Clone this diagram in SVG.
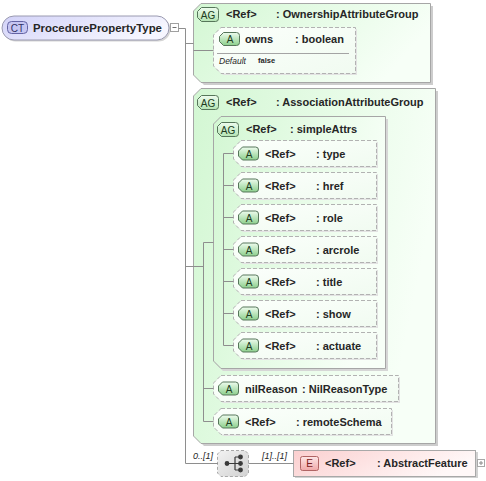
<svg xmlns="http://www.w3.org/2000/svg" width="486" height="481" viewBox="0 0 486 481">
<defs>
<linearGradient id="gAG" x1="0" y1="0" x2="1" y2="0.3"><stop offset="0" stop-color="#d3f7d3"/><stop offset="1" stop-color="#f7fff7"/></linearGradient>
<linearGradient id="gAT" x1="0" y1="0" x2="1" y2="1"><stop offset="0" stop-color="#fbfffb"/><stop offset="1" stop-color="#f1fbf1"/></linearGradient>
<linearGradient id="gBA" x1="0" y1="0" x2="0" y2="1"><stop offset="0" stop-color="#eefcee"/><stop offset="1" stop-color="#8ccf8c"/></linearGradient>
<linearGradient id="gBG" x1="0" y1="0" x2="0" y2="1"><stop offset="0" stop-color="#eefcee"/><stop offset="1" stop-color="#b4e4b4"/></linearGradient>
<linearGradient id="gCT" x1="0" y1="0" x2="1" y2="0.4"><stop offset="0" stop-color="#d2d2f8"/><stop offset="1" stop-color="#f6f6ff"/></linearGradient>
<linearGradient id="gE" x1="0" y1="0" x2="1" y2="0.3"><stop offset="0" stop-color="#fbcfcf"/><stop offset="1" stop-color="#fff8f8"/></linearGradient>
<linearGradient id="gBE" x1="0" y1="0" x2="0" y2="1"><stop offset="0" stop-color="#fde6e6"/><stop offset="1" stop-color="#f0a8a8"/></linearGradient>
<linearGradient id="gSQ" x1="0" y1="0" x2="1" y2="1"><stop offset="0" stop-color="#f2f2f2"/><stop offset="1" stop-color="#d2d2d2"/></linearGradient>
</defs>
<style>
.t{font-family:"Liberation Sans",Arial,sans-serif;font-size:11px;font-weight:bold;fill:#262626}
.c{font-family:"Liberation Sans",Arial,sans-serif;font-size:9px;font-style:italic;fill:#262626}
.bt{font-family:"Liberation Sans",Arial,sans-serif;font-size:10px;text-anchor:middle;fill:#203a20}
.ln{stroke:#8e8e8e;stroke-width:1;fill:none}
.ag{fill:url(#gAG);stroke:#a6a6a6;stroke-width:1}
.sh{fill:#cdcdcd}
.ash{fill:#e2e2e2}
.at{fill:url(#gAT);stroke:#b2b2b2;stroke-width:1;stroke-dasharray:4 2}
.bA{fill:url(#gBA);stroke:#56765a;stroke-width:1}
.bG{fill:url(#gBG);stroke:#56765a;stroke-width:1}
</style>

<g id="ProcedurePropertyType">
<rect x="3.5" y="17.5" width="167" height="24" rx="12" fill="#d4d4d4"/>
<rect x="2" y="16" width="167" height="24" rx="12" fill="url(#gCT)" stroke="#9a9ab0"/>
<rect x="7.5" y="21.5" width="20" height="12" rx="4" fill="#c6c6f2" stroke="#6464a4"/>
<text class="bt" x="17.5" y="31.5" style="fill:#303064">CT</text>
<text class="t" x="33" y="31.5" style="font-size:11.4px">ProcedurePropertyType</text>
<rect x="170.5" y="23.5" width="8" height="8" fill="#ffffff" stroke="#a0a0a0"/>
<path d="M172.5,27.5 H176.5" stroke="#707070"/>
</g>

<g id="OwnershipAttributeGroup">
<path class="sh" d="M204,6 H433 V85 H204 L196,77 V14 Z"/>
<path class="ag" d="M201,3.5 H430.5 V82.5 H201 L193.5,75 V11 Z"/>
<path class="bG" d="M201.5,7.5 H215.5 Q218.5,7.5 218.5,10.5 V18.5 Q218.5,21.5 215.5,21.5 H201.5 L197.5,17.5 V11.5 Z"/>
<text class="bt" x="208" y="18.5">AG</text>
<text class="t" x="226" y="18">&lt;Ref&gt;</text>
<text class="t" x="276" y="18">: OwnershipAttributeGroup</text>
</g>

<g id="owns">
<path class="ash" d="M223,29 H357 V75 H223 L215,67 V37 Z"/>
<path class="at" d="M221,27.5 H355.5 V73.5 H221 L213.5,66 V35 Z"/>
<path class="bA" d="M223.5,32.5 H236.5 Q239.5,32.5 239.5,35.5 V42.5 Q239.5,45.5 236.5,45.5 H223.5 L219.5,41.5 V36.5 Z"/>
<text class="bt" x="230" y="43">A</text>
<text class="t" x="245" y="42.5">owns</text>
<text class="t" x="295" y="42.5">: boolean</text>
<path d="M217,53.5 H349" stroke="#a4a4a4"/>
<text x="219" y="64" style="font-family:'Liberation Sans',Arial,sans-serif;font-size:8.5px;font-style:italic;fill:#262626">Default</text>
<text x="258" y="63" style="font-family:'Liberation Sans',Arial,sans-serif;font-size:7.5px;font-weight:bold;fill:#262626">false</text>
</g>

<g id="AssociationAttributeGroup">
<path class="sh" d="M204,91 H438 V446 H204 L196,438 V99 Z"/>
<path class="ag" d="M201,88.5 H435.5 V443.5 H201 L193.5,436 V96 Z"/>
<path class="bG" d="M201.5,95.5 H215.5 Q218.5,95.5 218.5,98.5 V106.5 Q218.5,109.5 215.5,109.5 H201.5 L197.5,105.5 V99.5 Z"/>
<text class="bt" x="208" y="106.5">AG</text>
<text class="t" x="226" y="106">&lt;Ref&gt;</text>
<text class="t" x="276" y="106">: AssociationAttributeGroup</text>
</g>

<g id="simpleAttrs">
<path class="sh" d="M223,119 H388 V371 H223 L215,363 V127 Z" style="fill:#d6d6d6"/>
<path class="ag" d="M221,116.5 H385.5 V368.5 H221 L213.5,361 V124 Z"/>
<path class="bG" d="M221.5,122.5 H235.5 Q238.5,122.5 238.5,125.5 V133.5 Q238.5,136.5 235.5,136.5 H221.5 L217.5,132.5 V126.5 Z"/>
<text class="bt" x="228" y="133.5">AG</text>
<text class="t" x="246" y="133">&lt;Ref&gt;</text>
<text class="t" x="290" y="133">: simpleAttrs</text>
</g>

<g id="type">
<path class="ash" d="M243,142 H378 V168 H243 L235,160 V150 Z"/>
<path class="at" d="M241,140.5 H376.5 V166.5 H241 L233.5,159 V148 Z"/>
<path class="bA" d="M242.5,147 H255.5 Q258.5,147 258.5,150 V157 Q258.5,160 255.5,160 H242.5 L238.5,156 V151 Z"/>
<text class="bt" x="249" y="157.5">A</text>
<text class="t" x="265" y="157.5">&lt;Ref&gt;</text>
<text class="t" x="316" y="157.5">: type</text>
</g>
<g id="href">
<path class="ash" d="M243,174 H378 V200 H243 L235,192 V182 Z"/>
<path class="at" d="M241,172.5 H376.5 V198.5 H241 L233.5,191 V180 Z"/>
<path class="bA" d="M242.5,179 H255.5 Q258.5,179 258.5,182 V189 Q258.5,192 255.5,192 H242.5 L238.5,188 V183 Z"/>
<text class="bt" x="249" y="189.5">A</text>
<text class="t" x="265" y="189.5">&lt;Ref&gt;</text>
<text class="t" x="316" y="189.5">: href</text>
</g>
<g id="role">
<path class="ash" d="M243,206 H378 V232 H243 L235,224 V214 Z"/>
<path class="at" d="M241,204.5 H376.5 V230.5 H241 L233.5,223 V212 Z"/>
<path class="bA" d="M242.5,211 H255.5 Q258.5,211 258.5,214 V221 Q258.5,224 255.5,224 H242.5 L238.5,220 V215 Z"/>
<text class="bt" x="249" y="221.5">A</text>
<text class="t" x="265" y="221.5">&lt;Ref&gt;</text>
<text class="t" x="316" y="221.5">: role</text>
</g>
<g id="arcrole">
<path class="ash" d="M243,238 H378 V264 H243 L235,256 V246 Z"/>
<path class="at" d="M241,236.5 H376.5 V262.5 H241 L233.5,255 V244 Z"/>
<path class="bA" d="M242.5,243 H255.5 Q258.5,243 258.5,246 V253 Q258.5,256 255.5,256 H242.5 L238.5,252 V247 Z"/>
<text class="bt" x="249" y="253.5">A</text>
<text class="t" x="265" y="253.5">&lt;Ref&gt;</text>
<text class="t" x="316" y="253.5">: arcrole</text>
</g>
<g id="title">
<path class="ash" d="M243,270 H378 V296 H243 L235,288 V278 Z"/>
<path class="at" d="M241,268.5 H376.5 V294.5 H241 L233.5,287 V276 Z"/>
<path class="bA" d="M242.5,275 H255.5 Q258.5,275 258.5,278 V285 Q258.5,288 255.5,288 H242.5 L238.5,284 V279 Z"/>
<text class="bt" x="249" y="285.5">A</text>
<text class="t" x="265" y="285.5">&lt;Ref&gt;</text>
<text class="t" x="316" y="285.5">: title</text>
</g>
<g id="show">
<path class="ash" d="M243,302 H378 V328 H243 L235,320 V310 Z"/>
<path class="at" d="M241,300.5 H376.5 V326.5 H241 L233.5,319 V308 Z"/>
<path class="bA" d="M242.5,307 H255.5 Q258.5,307 258.5,310 V317 Q258.5,320 255.5,320 H242.5 L238.5,316 V311 Z"/>
<text class="bt" x="249" y="317.5">A</text>
<text class="t" x="265" y="317.5">&lt;Ref&gt;</text>
<text class="t" x="316" y="317.5">: show</text>
</g>
<g id="actuate">
<path class="ash" d="M243,334 H378 V360 H243 L235,352 V342 Z"/>
<path class="at" d="M241,332.5 H376.5 V358.5 H241 L233.5,351 V340 Z"/>
<path class="bA" d="M242.5,339 H255.5 Q258.5,339 258.5,342 V349 Q258.5,352 255.5,352 H242.5 L238.5,348 V343 Z"/>
<text class="bt" x="249" y="349.5">A</text>
<text class="t" x="265" y="349.5">&lt;Ref&gt;</text>
<text class="t" x="316" y="349.5">: actuate</text>
</g>

<g id="nilReason">
<path class="ash" d="M223,377 H400 V403 H223 L215,395 V385 Z"/>
<path class="at" d="M221,375.5 H398.5 V401.5 H221 L213.5,394 V383 Z"/>
<path class="bA" d="M222.5,382 H235.5 Q238.5,382 238.5,385 V392 Q238.5,395 235.5,395 H222.5 L218.5,391 V386 Z"/>
<text class="bt" x="229" y="392.5">A</text>
<text class="t" x="245" y="392.5">nilReason</text>
<text class="t" x="302" y="392.5">: NilReasonType</text>
</g>
<g id="remoteSchema">
<path class="ash" d="M223,410 H393 V436 H223 L215,428 V418 Z"/>
<path class="at" d="M221,408.5 H391.5 V434.5 H221 L213.5,427 V416 Z"/>
<path class="bA" d="M222.5,415 H235.5 Q238.5,415 238.5,418 V425 Q238.5,428 235.5,428 H222.5 L218.5,424 V419 Z"/>
<text class="bt" x="229" y="425.5">A</text>
<text class="t" x="245" y="425.5">&lt;Ref&gt;</text>
<text class="t" x="296" y="425.5">: remoteSchema</text>
</g>

<g id="sequence">
<path d="M221,450.5 H245 L248.5,454 V473 L245,476.5 H221 L217.5,473 V454 Z" fill="url(#gSQ)" stroke="#a8a8a8" stroke-dasharray="3 2"/>
<g stroke="#3a3a3a" stroke-width="1.2" fill="#3a3a3a">
<path d="M227,463.5 H235 M235,457 V470 M235,457 H240 M235,463.5 H240 M235,470 H240" fill="none"/>
<circle cx="227" cy="463.5" r="1.8"/>
<circle cx="240.5" cy="457" r="1.8"/>
<circle cx="240.5" cy="463.5" r="1.8"/>
<circle cx="240.5" cy="470" r="1.8"/>
</g>
</g>

<g id="AbstractFeature">
<rect x="295" y="452" width="183" height="26" fill="#d2d2d2"/>
<rect x="293.5" y="450.5" width="182" height="26" fill="url(#gE)" stroke="#a8a8a8"/>
<rect x="300.5" y="456.5" width="18" height="14" rx="2" fill="url(#gBE)" stroke="#b06464"/>
<text class="bt" x="309.5" y="467" style="fill:#7a2020">E</text>
<text class="t" x="325" y="467">&lt;Ref&gt;</text>
<text class="t" x="377" y="467">: AbstractFeature</text>
<rect x="477.5" y="459.5" width="7" height="7" fill="#ffffff" stroke="#a8a8a8"/>
<path d="M479,463 H483 M481,461 V465" stroke="#8a8a8a"/>
</g>

<g id="connectors">
<path class="ln" d="M178.5,28.5 H185.5 V463.5 H218"/>
<path class="ln" d="M185.5,43.5 H193.5"/>
<path class="ln" d="M193.5,50.5 H213.5"/>
<path class="ln" d="M185.5,266.5 H203.5"/>
<path class="ln" d="M203.5,242.5 V421.5"/>
<path class="ln" d="M203.5,242.5 H213.5 M203.5,388.5 H213.5 M203.5,421.5 H213.5"/>
<path class="ln" d="M223.5,153.5 V345.5"/>
<path class="ln" d="M223.5,153.5 H233.5 M223.5,185.5 H233.5 M223.5,217.5 H233.5 M223.5,249.5 H233.5 M223.5,281.5 H233.5 M223.5,313.5 H233.5 M223.5,345.5 H233.5"/>
<path class="ln" d="M248.5,463.5 H293.5"/>
<text class="c" x="193" y="459">0..[1]</text>
<text class="c" x="262" y="459">[1]..[1]</text>
</g>
</svg>
